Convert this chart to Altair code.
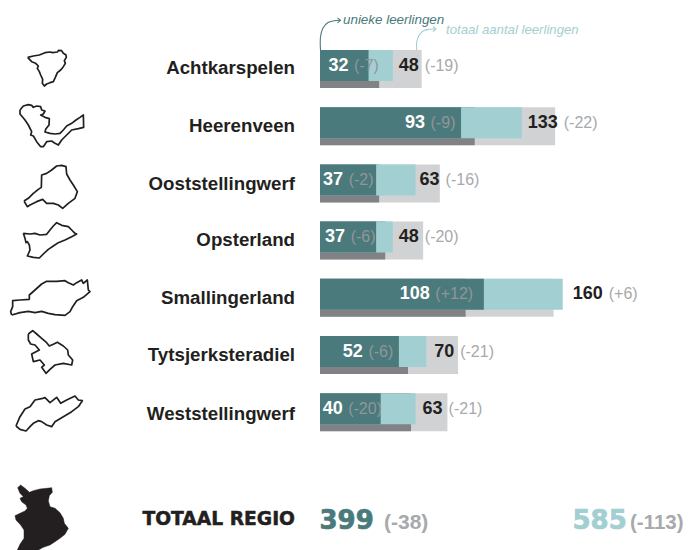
import altair as alt
import pandas as pd

names = ["Achtkarspelen", "Heerenveen", "Ooststellingwerf", "Opsterland",
         "Smallingerland", "Tytsjerksteradiel", "Weststellingwerf"]
unique = [32, 93, 37, 37, 108, 52, 40]
unique_change = [-7, -9, -2, -6, 12, -6, -20]
total = [48, 133, 63, 48, 160, 70, 63]
total_change = [-19, -22, -16, -20, 6, -21, -21]
region_unique, region_unique_change = 399, -38
region_total, region_total_change = 585, -113

# outlines, in crop coordinates of the zooms
shape_crops = {
    "Achtkarspelen": [(83,82),(100,78),(118,75),(135,68),(150,66),(158,68),(172,66),(176,61),(185,62),(190,70),(198,75),(199,82),(193,92),(196,100),(190,110),(182,120),(172,128),(166,142),(160,155),(150,158),(140,162),(133,168),(127,160),(128,148),(122,135),(118,125),(112,115),(115,108),(107,100),(95,95),(83,82)],
    "Heerenveen": [(60,240),(70,228),(85,224),(95,226),(100,232),(110,228),(122,230),(125,240),(135,243),(130,252),(122,255),(135,262),(148,266),(147,285),(137,298),(135,306),(150,310),(165,312),(180,310),(190,300),(200,288),(215,280),(228,270),(240,262),(250,255),(251,292),(235,296),(215,300),(200,315),(185,330),(175,345),(165,340),(155,333),(140,335),(130,350),(122,350),(110,335),(100,318),(92,315),(95,305),(85,285),(75,270),(60,252),(60,240)],
    "Ooststellingwerf": [(72,513),(85,505),(100,490),(115,478),(124,472),(125,435),(140,430),(155,420),(170,408),(185,406),(198,410),(200,432),(210,450),(220,465),(232,485),(225,505),(205,520),(188,535),(175,525),(160,520),(140,520),(128,508),(110,515),(90,525),(82,530),(72,513)],
}
shape_crops2 = {
    "Opsterland": [(70,70),(90,72),(105,70),(120,75),(140,73),(150,60),(160,48),(170,38),(185,46),(205,50),(215,60),(225,70),(230,72),(215,80),(195,90),(175,98),(160,108),(145,118),(130,132),(118,144),(100,142),(82,138),(90,120),(88,105),(82,95),(78,98),(75,85),(70,70)],
    "Smallingerland": [(35,315),(32,305),(38,290),(38,272),(60,270),(88,268),(88,255),(105,240),(125,222),(140,214),(170,214),(195,212),(205,218),(220,225),(230,218),(245,210),(250,220),(262,210),(265,240),(270,245),(250,262),(230,272),(218,290),(210,305),(195,316),(165,314),(145,310),(125,304),(105,308),(85,304),(60,308),(35,315)],
    "Tytsjerksteradiel": [(85,372),(98,362),(110,372),(125,385),(140,398),(148,408),(160,403),(172,397),(190,408),(203,420),(205,435),(218,450),(215,465),(190,460),(165,465),(150,478),(138,490),(125,472),(133,465),(120,450),(100,455),(95,432),(118,420),(105,405),(92,402),(85,390),(85,372)],
    "Weststellingwerf": [(48,648),(60,620),(75,597),(90,590),(105,570),(128,565),(135,563),(150,578),(170,562),(182,580),(200,570),(225,558),(235,570),(247,572),(235,590),(215,605),(190,620),(165,635),(155,650),(140,645),(125,635),(115,632),(100,640),(90,650),(78,663),(60,658),(48,648)],
}
region_crop = [(53,38),(62,30),(75,40),(88,52),(100,47),(120,42),(140,40),(155,38),(157,52),(148,62),(145,78),(150,95),(165,100),(180,113),(190,130),(193,145),(205,160),(195,178),(180,190),(165,200),(150,210),(130,217),(115,225),(100,225),(85,225),(70,225),(52,225),(60,208),(72,190),(72,165),(62,150),(48,135),(45,122),(60,115),(75,108),(82,100),(78,90),(65,80),(60,70),(70,65),(60,55),(53,38)]

curve_unique = [(320.5,50),(320.5,37),(323,28),(328,22.5),(334,20.8),(340.5,20.3)]
curve_total = [(416.7,50),(416.7,42),(419,35.5),(423,31),(429,29.3),(436,29)]
head_unique = [(337.5,17.8),(340.5,20.3),(337.5,22.8)]
head_total = [(433,26.5),(436,29),(433,31.5)]

# label placement, in pixels
PX = 1.517
unique_label_back = [20, 36, 33, 31, 54, 36, 38]
total_label_gap = [6, 6, 4, 6, 10, 8, 7]
name_y = [68, 126, 184, 240, 298, 355, 414]

TEAL, LIGHT, GREY, DARK = "#4a7a7c", "#a2cfd2", "#d1d2d4", "#808285"
INK, MUTED, CHANGE_ON_BAR = "#231f20", "#a7a9ac", "#939598"
SANS = "Liberation Sans"

W, H = 676, 542

def signed(v):
    return f"({v:+d})"

df = pd.DataFrame({"name": names, "unique": unique, "total": total,
                   "uc": [signed(v) for v in unique_change],
                   "tc": [signed(v) for v in total_change]})
df["prev_unique"] = [u - c for u, c in zip(unique, unique_change)]
df["prev_total"] = [t - c for t, c in zip(total, total_change)]
df["u_end"] = [u - b / PX for u, b in zip(unique, unique_label_back)]
df["u_change"] = [e + 5.5 / PX for e in df["u_end"]]
df["t_start"] = [t + g / PX for t, g in zip(total, total_label_gap)]
df["t_change"] = [s + ((10 * 3 if t >= 100 else 20) + 6) / PX for s, t in zip(df["t_start"], total)]
df["name_y"] = name_y

xs = alt.Scale(domain=[0, (W - 312) / PX], range=[312, W], nice=False, zero=False)
ys = alt.Scale(domain=names, range=[28.9, 429.3], paddingInner=0, paddingOuter=0)
X = lambda f: alt.X(f"{f}:Q", scale=xs, axis=None)
Y = alt.Y("name:N", scale=ys, axis=None, sort=names)

# reference-pixel scales for outlines and annotations
px = alt.Scale(domain=[8, 8 + W], range=[0, W], nice=False, zero=False)
py = alt.Scale(domain=[8, 8 + H], range=[0, H], nice=False, zero=False)

def bar(field, color, h, off):
    return alt.Chart(df).mark_bar(color=color, height=h, yOffset=off, clip=False).encode(
        x=alt.X(f"{field}:Q", scale=xs, axis=None), x2=alt.value(312), y=Y)

def txt(xf, textf, color, size, align, weight="normal"):
    return alt.Chart(df).mark_text(font=SANS, fontSize=size, fontWeight=weight, color=color,
                                   align=align, baseline="middle").encode(
        x=X(xf), y=Y, text=f"{textf}:N")

bars = [bar("prev_total", GREY, 38, 3.5), bar("prev_unique", DARK, 38, 3.5),
        bar("total", LIGHT, 31, 0), bar("unique", TEAL, 31, 0)]
labels = [txt("u_end", "unique", "#ffffff", 18, "right", "bold"),
          txt("u_change", "uc", CHANGE_ON_BAR, 16, "left"),
          txt("t_start", "total", INK, 18, "left", "bold"),
          txt("t_change", "tc", MUTED, 16, "left")]
name_labels = alt.Chart(df).mark_text(font=SANS, fontSize=18.7, fontWeight="bold", color=INK,
                                      align="right", baseline="middle").encode(
    x=alt.value(287), y=alt.Y("name_y:Q", scale=py, axis=None), text="name:N")

rows = []
for nm, pts in shape_crops.items():
    rows += [{"g": nm, "i": i, "x": a / 3, "y": 30 + b / 3} for i, (a, b) in enumerate(pts)]
for nm, pts in shape_crops2.items():
    rows += [{"g": nm, "i": i, "x": a / 3, "y": 210 + b / 3} for i, (a, b) in enumerate(pts)]
outlines = alt.Chart(pd.DataFrame(rows)).mark_line(color=INK, strokeWidth=1.7, strokeJoin="round").encode(
    x=alt.X("x:Q", scale=px, axis=None), y=alt.Y("y:Q", scale=py, axis=None),
    detail="g:N", order="i:Q")

def path(pts, color, interp, w=1.1):
    d = pd.DataFrame({"x": [p[0] for p in pts], "y": [p[1] for p in pts], "i": range(len(pts))})
    return alt.Chart(d).mark_line(color=color, strokeWidth=w, interpolate=interp).encode(
        x=alt.X("x:Q", scale=px, axis=None), y=alt.Y("y:Q", scale=py, axis=None), order="i:Q")

arrows = [path(curve_unique, TEAL, "catmull-rom"), path(head_unique, TEAL, "linear"),
          path(curve_total, LIGHT, "catmull-rom"), path(head_total, LIGHT, "linear")]

def note(xv, yv, text, color, size, font=SANS, weight="normal", style="normal", align="left", heavy=0):
    d = pd.DataFrame({"x": [xv], "y": [yv], "t": [text]})
    kw = {"stroke": color, "strokeWidth": heavy} if heavy else {}
    return alt.Chart(d).mark_text(font=font, fontSize=size, fontWeight=weight, fontStyle=style,
                                  color=color, align=align, baseline="middle", **kw).encode(
        x=alt.X("x:Q", scale=px, axis=None), y=alt.Y("y:Q", scale=py, axis=None), text="t:N")

notes = [
    note(343, 20, "unieke leerlingen", TEAL, 13.4, style="italic"),
    note(446, 30, "totaal aantal leerlingen", LIGHT, 13.2, style="italic"),
    note(295, 518.5, "TOTAAL REGIO", INK, 18.7, font="DejaVu Sans", weight="bold", align="right", heavy=0.5),
    note(319.5, 520.5, str(region_unique), TEAL, 26, font="DejaVu Sans", weight="bold", heavy=0.7),
    note(384, 523, signed(region_unique_change), MUTED, 21, weight="bold"),
    note(572.5, 520.5, str(region_total), LIGHT, 26, font="DejaVu Sans", weight="bold", heavy=0.7),
    note(630, 523, signed(region_total_change), MUTED, 20.5, weight="bold"),
]

ring = [[a / 3 - 8, 475 + b / 3 - 8] for a, b in region_crop]
region_map = alt.Chart(alt.InlineData(values=[{"type": "Feature", "properties": {},
        "geometry": {"type": "Polygon", "coordinates": [ring]}}])).mark_geoshape(
    fill=INK, stroke=INK, strokeWidth=0.5, clip=False).project(type="identity", scale=1, translate=[0, 0])

chart = alt.layer(region_map, outlines, *bars, *labels, name_labels, *arrows, *notes).resolve_scale(
    x="independent", y="independent"
).properties(width=W, height=H, padding=0, autosize=alt.AutoSizeParams(type="none")).configure_view(stroke=None)

chart.save("out.html", embed_options={"renderer": "svg", "actions": False})
